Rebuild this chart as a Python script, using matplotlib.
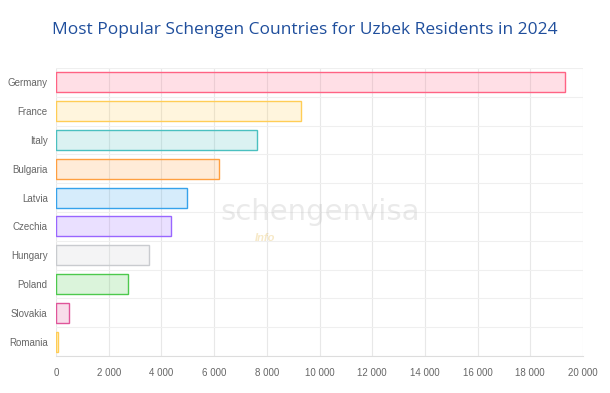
import matplotlib.pyplot as plt
from matplotlib.ticker import FuncFormatter

countries = ['Germany', 'France', 'Italy', 'Bulgaria', 'Latvia', 'Czechia',
             'Hungary', 'Poland', 'Slovakia', 'Romania']
applications = [19320, 9300, 7630, 6190, 4970, 4360, 3530, 2730, 490, 60]
colors = ['#ff6384', '#ffcd56', '#4bc0c0', '#ff9f40', '#36a2eb', '#9966ff',
          '#c9cbcf', '#4dc94d', '#e0559a', '#ffcd56']
xticks = list(range(0, 20001, 2000))

plt.rcParams['font.family'] = ['Liberation Sans', 'DejaVu Sans']

fig = plt.figure(figsize=(6.1, 3.93), dpi=100)
ax = fig.add_axes([56 / 610, 1 - 356 / 393, 527 / 610, 288 / 393])

ypos = list(range(len(countries)))
for y, v, c in zip(ypos, applications, colors):
    ax.barh(y, v, height=0.7, color=c, alpha=0.2, zorder=2)
    ax.barh(y, v, height=0.7, fill=False, edgecolor=c, linewidth=1, zorder=3)

ax.set_ylim(len(countries) - 0.5, -0.5)
ax.set_xlim(0, 20000)
ax.set_yticks(ypos)
ax.set_yticklabels(countries)
ax.set_xticks(xticks)
ax.xaxis.set_major_formatter(FuncFormatter(lambda v, p: f'{int(v):,}'.replace(',', ' ')))

# grid: vertical at ticks, horizontal between categories
ax.set_yticks([i + 0.5 for i in range(-1, len(countries))], minor=True)
ax.grid(axis='x', color='#e8e8e8', linewidth=0.8, zorder=0)
ax.grid(axis='y', which='minor', color='#efefef', linewidth=0.8, zorder=0)
ax.tick_params(axis='both', which='both', length=0, colors='#666666', labelsize=7)
ax.tick_params(axis='y', pad=6)
ax.tick_params(axis='x', pad=9)
for s in ['top', 'right', 'left']:
    ax.spines[s].set_visible(False)
ax.spines['bottom'].set_color('#dddddd')

# faint watermark
fig.text(0.525, 0.46, 'schengenvisa', fontsize=21, color='#bbbbbb', alpha=0.3,
         ha='center', va='center', family='DejaVu Sans')
fig.text(0.435, 0.395, 'Info', fontsize=8, color='#e8c060', alpha=0.35,
         ha='center', va='center', style='italic', weight='bold')

fig.text(0.5, 1 - 30 / 393, 'Most Popular Schengen Countries for Uzbek Residents in 2024',
         ha='center', va='center', fontsize=12.5, color='#1f4e9c', family='Open Sans')

fig.savefig('out.png', dpi=100, facecolor='white')
